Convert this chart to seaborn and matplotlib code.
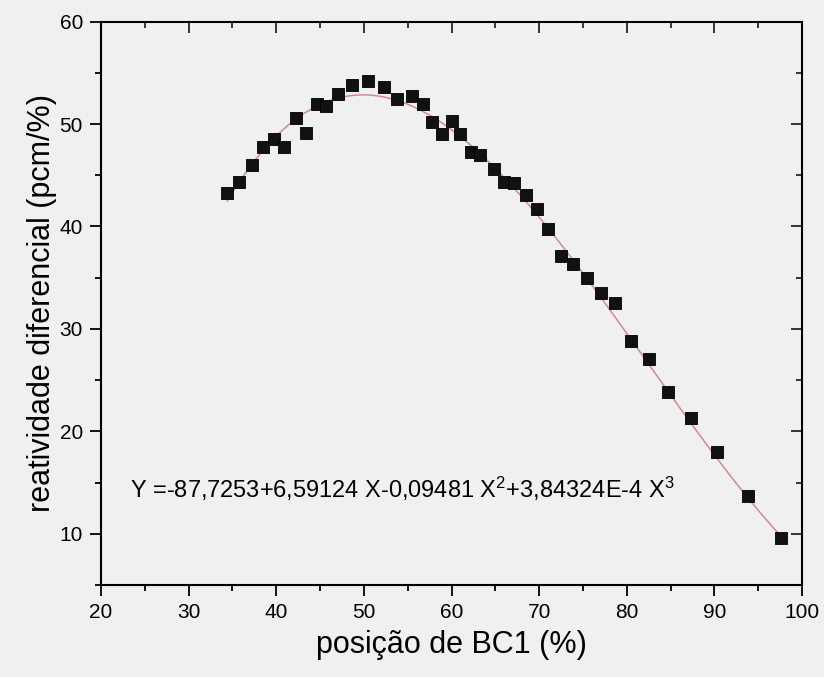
import numpy as np
import pandas as pd
import matplotlib
matplotlib.use("Agg")
import matplotlib.pyplot as plt
from matplotlib.ticker import MultipleLocator
import seaborn as sns

# ----------------------------
# Data
# ----------------------------
posicao = [34.4, 35.8, 37.2, 38.5, 39.7, 40.9, 42.3, 43.4, 44.7, 45.7,
           47.1, 48.6, 50.5, 52.3, 53.8, 55.5, 56.8, 57.8, 58.9, 60.0,
           61.0, 62.2, 63.3, 64.8, 66.0, 67.1, 68.5, 69.7, 71.0, 72.5,
           73.9, 75.5, 77.1, 78.7, 80.5, 82.5, 84.7, 87.3, 90.3, 93.8, 97.6]
reatividade = [43.3, 44.3, 46.0, 47.8, 48.5, 47.8, 50.6, 49.1, 52.0, 51.8,
               52.9, 53.8, 54.2, 53.6, 52.4, 52.7, 52.0, 50.2, 49.0, 50.3,
               49.0, 47.3, 47.0, 45.6, 44.3, 44.2, 43.1, 41.7, 39.8, 37.1,
               36.3, 35.0, 33.5, 32.5, 28.8, 27.1, 23.8, 21.3, 18.0, 13.7, 9.6]

# cubic fit coefficients printed on the chart
coef = [-87.7253, 6.59124, -0.09481, 3.84324e-4]
equacao = "Y =-87,7253+6,59124 X-0,09481 X$^2$+3,84324E-4 X$^3$"

df = pd.DataFrame({"x": posicao, "y": reatividade})
xf = np.linspace(min(posicao), max(posicao), 300)
fit = pd.DataFrame({"x": xf, "y": np.polyval(coef[::-1], xf)})

# ----------------------------
# Style
# ----------------------------
sns.set_theme(style="ticks")
bg = "#f0f0f0"
plt.rcParams["font.family"] = ["Liberation Sans", "DejaVu Sans"]
plt.rcParams["mathtext.fontset"] = "custom"
plt.rcParams["mathtext.rm"] = "Liberation Sans"
plt.rcParams["mathtext.it"] = "Liberation Sans"
plt.rcParams["figure.facecolor"] = bg
plt.rcParams["axes.facecolor"] = bg

fig = plt.figure(figsize=(8.24, 6.77), dpi=100)
ax = fig.add_axes([0.1226, 0.136, 0.8507, 0.832])

sns.lineplot(data=fit, x="x", y="y", ax=ax, color="#d48a8a", lw=1.1)
sns.scatterplot(data=df, x="x", y="y", ax=ax, marker="s", s=78,
                color="#111111", edgecolor="#000000", linewidth=0.6, zorder=3)

ax.set_xlim(20, 100)
ax.set_ylim(5, 60)
ax.xaxis.set_major_locator(MultipleLocator(10))
ax.xaxis.set_minor_locator(MultipleLocator(5))
ax.yaxis.set_major_locator(MultipleLocator(10))
ax.yaxis.set_minor_locator(MultipleLocator(5))

for s in ax.spines.values():
    s.set_visible(True)
    s.set_color("black")
    s.set_linewidth(1.5)

ax.tick_params(axis="both", which="both", colors="black", labelcolor="black",
               labelsize=15, width=1.3, direction="out", top=False, right=False)
ax.tick_params(axis="both", which="major", length=8, pad=5)
ax.tick_params(axis="both", which="minor", length=4)

# inward ticks on top/right
sec_x = ax.secondary_xaxis("top")
sec_x.xaxis.set_major_locator(MultipleLocator(10))
sec_x.xaxis.set_minor_locator(MultipleLocator(5))
sec_x.tick_params(which="both", direction="in", labeltop=False, width=1.3)
sec_x.tick_params(which="major", length=8)
sec_x.tick_params(which="minor", length=4)
sec_y = ax.secondary_yaxis("right")
sec_y.yaxis.set_major_locator(MultipleLocator(10))
sec_y.yaxis.set_minor_locator(MultipleLocator(5))
sec_y.tick_params(which="both", direction="in", labelright=False, width=1.3)
sec_y.tick_params(which="major", length=8)
sec_y.tick_params(which="minor", length=4)

ax.set_xlabel("posição de BC1 (%)", fontsize=22, labelpad=6, color="black")
ax.set_ylabel("reatividade diferencial (pcm/%)", fontsize=22, labelpad=2, color="black")

ax.text(23.3, 14.4, equacao, fontsize=17, va="center", ha="left", color="black")

plt.savefig("out.png", dpi=100, facecolor=bg)
